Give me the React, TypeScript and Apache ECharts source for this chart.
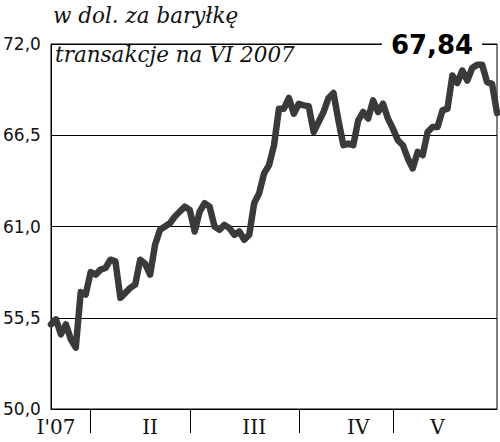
import React, { useEffect, useRef } from "react";
import * as echarts from "echarts";

const prices: number[] = [
  55.1, 55.4, 54.5, 55.1, 54.2, 53.7, 57.05, 56.9, 58.25,
  58.1, 58.4, 58.5, 59.0, 58.9, 56.7, 57.0, 57.3, 57.5, 59.0, 58.75, 58.1, 59.9, 60.8, 61.0, 61.2, 61.6, 61.9, 62.2, 62.0,
  60.7, 61.9, 62.4, 62.2, 61.0, 60.8, 61.1, 60.9, 60.5, 60.7, 60.2, 60.5, 62.4, 63.0, 64.2, 64.7, 65.9, 68.1, 68.1, 68.75, 67.8, 68.4,
  68.3, 68.25, 66.7, 67.3, 67.9, 68.75, 69.05, 67.4, 65.9, 66.0, 65.9, 67.4, 67.9, 67.5, 68.6, 67.9, 68.4, 67.5, 66.9,
  66.2, 65.9, 65.1, 64.5, 65.5, 65.3, 66.7, 67.0, 67.0, 68.0, 68.1, 70.1, 69.65, 70.4, 69.8, 70.55, 70.75, 70.75, 69.7, 69.6, 67.84,
];

const monthLabels: string[] = ["I'07", "II", "III", "IV", "V"];
const monthLabelIndex: number[] = [1, 20, 41, 62, 78];
const monthBoundaryIndex: number[] = [8, 28, 50, 69];

const yMin = 50;
const yMax = 72;
const yStep = 5.5;

const title = "w dol. za baryłkę";
const subtitle = "transakcje na VI 2007";

export default function App() {
  const ref = useRef<HTMLDivElement>(null);

  useEffect(() => {
    if (!ref.current) return;
    const chart = echarts.init(ref.current, null, { renderer: "svg" });
    const days = prices.map((_, i) => String(i));
    const labelMap: Record<number, string> = {};
    monthLabelIndex.forEach((idx, k) => (labelMap[idx] = monthLabels[k]));
    const lastLabel = prices[prices.length - 1].toFixed(2).replace(".", ",");

    chart.setOption({
      animation: false,
      grid: {
        left: 49,
        right: 3,
        top: 44,
        bottom: 33,
        show: true,
        borderColor: "#000",
        borderWidth: 1,
        backgroundColor: "transparent",
      },
      xAxis: {
        type: "category",
        data: days,
        boundaryGap: false,
        axisLine: { show: true, lineStyle: { color: "#000", width: 1 } },
        axisTick: {
          show: true,
          length: 24,
          interval: (i: number) => monthBoundaryIndex.includes(i),
          lineStyle: { color: "#000", width: 1 },
        },
        axisLabel: {
          interval: (i: number) => monthLabelIndex.includes(i),
          formatter: (_v: string, i: number) => labelMap[i] ?? "",
          fontFamily: "DejaVu Serif",
          fontSize: 20,
          color: "#111",
          margin: 8,
        },
        splitLine: { show: false },
      },
      yAxis: {
        type: "value",
        min: yMin,
        max: yMax,
        interval: yStep,
        axisLine: { show: true, lineStyle: { color: "#000", width: 1 } },
        axisTick: { show: false },
        splitLine: { show: true, lineStyle: { color: "#000", width: 1 } },
        axisLabel: {
          formatter: (v: number) => v.toFixed(1).replace(".", ","),
          align: "left",
          margin: 48,
          fontFamily: "DejaVu Sans",
          fontSize: 17,
          color: "#111",
        },
      },
      series: [
        {
          type: "line",
          data: prices,
          symbol: "none",
          showSymbol: false,
          lineStyle: { color: "#3a3a3a", width: 6.5, cap: "round", join: "round" },
          z: 3,
        },
      ],
      graphic: [
        {
          type: "text",
          left: 53,
          top: 4,
          style: {
            text: title,
            font: 'italic 21.5px "DejaVu Serif"',
            fill: "#111",
          },
        },
        {
          type: "text",
          left: 55,
          top: 43,
          style: {
            text: subtitle,
            font: 'italic 21.5px "DejaVu Serif"',
            fill: "#111",
          },
        },
        {
          type: "text",
          x: 432,
          y: 45,
          z: 10,
          style: {
            text: lastLabel,
            font: 'bold 26px "DejaVu Sans"',
            fill: "#000",
            align: "center",
            verticalAlign: "middle",
            backgroundColor: "#fff",
            padding: [2, 9, 2, 9],
          },
        },
      ],
    });
    return () => chart.dispose();
  }, []);

  return (
    <div
      ref={ref}
      style={{ position: "fixed", left: 0, top: 0, width: 500, height: 442, background: "#fff" }}
    />
  );
}
